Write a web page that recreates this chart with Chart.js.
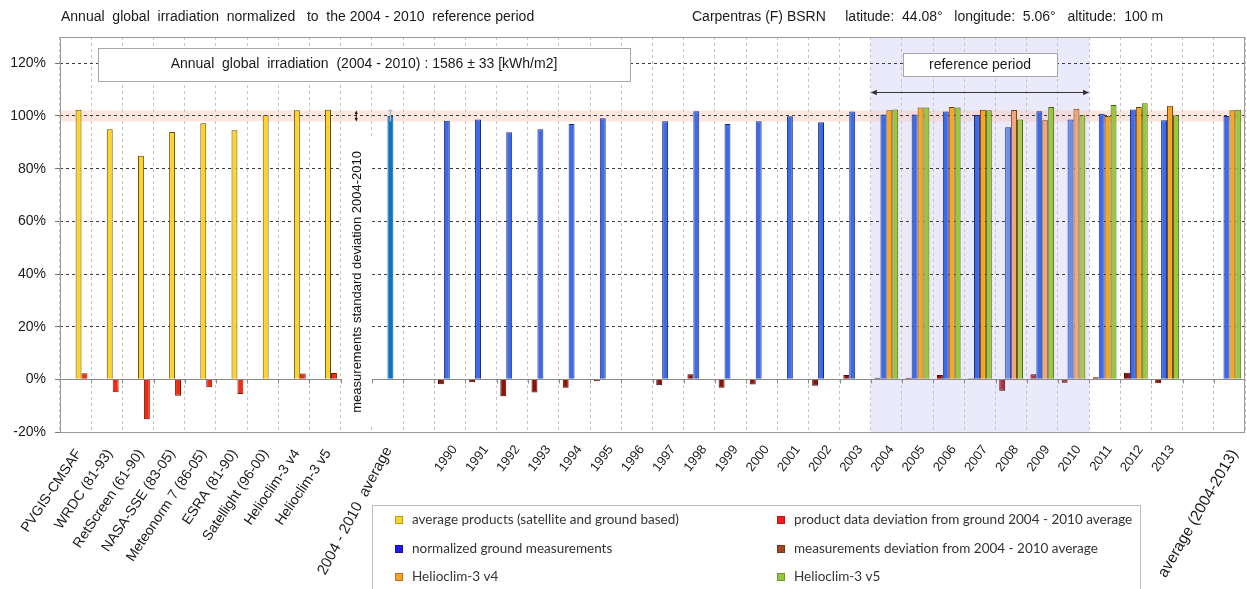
<!DOCTYPE html>
<html>
<head>
<meta charset="utf-8">
<title>Annual global irradiation – Carpentras</title>
<script src="https://cdn.jsdelivr.net/npm/chart.js@4.4.1/dist/chart.umd.min.js"></script>
<style>
  html, body { margin: 0; padding: 0; background: #ffffff; }
  #wrap { width: 1247px; height: 589px; position: relative; }
</style>
</head>
<body>
<div id="wrap"><canvas id="chart" width="1247" height="589"></canvas></div>
<script>
// ---- data (percent of the 2004-2010 ground average) ----
const productNames = ['PVGIS-CMSAF', 'WRDC (81-93)', 'RetScreen (61-90)', 'NASA-SSE (83-05)',
  'Meteonorm 7 (86-05)', 'ESRA (81-90)', 'Satellight (96-00)', 'Helioclim-3 v4', 'Helioclim-3 v5'];
const productAverage   = [102.4, 95.0, 84.9, 93.9, 97.2, 94.6, 100.3, 102.2, 102.4];
const productDeviation = [2.3, -4.9, -15.2, -6.2, -3.0, -5.6, 0.3, 2.2, 2.4];

const referenceLabel = '2004 - 2010  average';
const referenceAverage = 100;
const referenceStdDev = 2.1;          // 33 / 1586 kWh/m2

const years = ['1990', '1991', '1992', '1993', '1994', '1995', '1996', '1997', '1998', '1999', '2000', '2001',
  '2002', '2003', '2004', '2005', '2006', '2007', '2008', '2009', '2010', '2011', '2012', '2013'];
const groundNormalized = [98.2, 98.7, 93.8, 95.0, 97.0, 99.1, null, 98.0, 101.8, 97.0, 98.0, 99.9,
  97.6, 101.7, 100.6, 100.6, 101.7, 100.4, 95.7, 101.8, 98.7, 100.9, 102.5, 98.4];
const groundDeviation = [-1.9, -1.1, -6.4, -5.0, -3.2, -0.7, null, -2.2, 1.9, -3.2, -2.0, -0.1,
  -2.4, 1.6, 0.6, 0.6, 1.6, 0.4, -4.3, 1.9, -1.3, 0.8, 2.5, -1.5];

const hc3Years = ['2004', '2005', '2006', '2007', '2008', '2009', '2010', '2011', '2012', '2013'];
const hc3v4 = [102.2, 103.2, 103.4, 102.4, 102.3, 98.4, 102.8, 100.0, 103.4, 103.9];
const hc3v5 = [102.5, 103.2, 103.2, 102.2, 98.7, 103.4, 100.3, 104.2, 104.8, 100.3];

const summaryLabel = 'average (2004-2013)';
const summaryGround = 100.0;
const summaryDeviation = 0.1;
const summaryV4 = 102.2;
const summaryV5 = 102.4;

const referenceYears = ['2004', '2010'];   // first and last year of the reference period
const yMin = -20, yMax = 130, yStep = 20;

// ---- category layout: products | gap | 2004-2010 avg | gap | years | gap | 2004-2013 avg ----
const categories = [...productNames, '', referenceLabel, '', ...years, '', summaryLabel];
const stdDevIndex = productNames.length;
const referenceIndex = stdDevIndex + 1;
const yearStart = referenceIndex + 2;
const summaryIndex = yearStart + years.length + 1;
const N = categories.length;

const empty = () => new Array(N).fill(null);
const yellowData = empty(), redData = empty(), blueData = empty(), brownData = empty();
const orangeData = empty(), greenData = empty(), refData = empty();
productAverage.forEach((v, i) => { yellowData[i] = v; });
productDeviation.forEach((v, i) => { redData[i] = v; });
refData[referenceIndex] = referenceAverage;
groundNormalized.forEach((v, i) => { blueData[yearStart + i] = v; });
groundDeviation.forEach((v, i) => { brownData[yearStart + i] = v; });
hc3Years.forEach((yr, i) => {
  const idx = yearStart + years.indexOf(yr);
  orangeData[idx] = hc3v4[i];
  greenData[idx] = hc3v5[i];
});
blueData[summaryIndex] = summaryGround;
brownData[summaryIndex] = summaryDeviation;
orangeData[summaryIndex] = summaryV4;
greenData[summaryIndex] = summaryV5;

// colour helpers: the last reference years are drawn in a softer tone
const yearOf = i => (i >= yearStart && i < yearStart + years.length) ? years[i - yearStart] : null;
const shade = (normal, soft, softYears) => categories.map((_, i) => softYears.includes(yearOf(i)) ? soft : normal);

const datasets = [
  { label: 'measurements deviation from 2004 - 2010 average', data: brownData, stack: 's1',
    backgroundColor: shade('#8e1208', '#a8344c', ['2008', '2009', '2010']), borderColor: '#4a0a05',
    legendColor: '#a3461f', legendSlot: [1, 1] },
  { label: 'normalized ground measurements', data: blueData, stack: 's2',
    backgroundColor: shade('#3d6be8', '#6a8ff0', ['2008', '2010']), borderColor: '#1c2a78',
    legendColor: '#1a1af0', legendSlot: [0, 1] },
  { label: 'average products (satellite and ground based)', data: yellowData, stack: 's3',
    backgroundColor: '#ffd42a', borderColor: '#5e4c08', legendColor: '#f7d42c', legendSlot: [0, 0] },
  { label: 'Helioclim-3 v4', data: orangeData, stack: 's3',
    backgroundColor: shade('#f9a51e', '#f0a67c', ['2008', '2009', '2010']), borderColor: '#6e4208',
    legendColor: '#f7a12a', legendSlot: [0, 2] },
  { label: referenceLabel, data: refData, stack: 's3',
    backgroundColor: '#0a74c4', borderColor: '#064f88' },
  { label: 'product data deviation from ground 2004 - 2010 average', data: redData, stack: 's4',
    backgroundColor: '#f42a0e', borderColor: '#7a1505', legendColor: '#ff1a1a', legendSlot: [1, 0] },
  { label: 'Helioclim-3 v5', data: greenData, stack: 's4',
    backgroundColor: shade('#9bc53a', '#abc75a', ['2008', '2010']), borderColor: '#45620c',
    legendColor: '#93c83e', legendSlot: [1, 2] }
];

const FONT = '"Liberation Sans", Arial, sans-serif';

function rotatedLabel(ctx, text, px, py, deg, size) {
  ctx.save();
  ctx.translate(px, py);
  ctx.rotate(-deg * Math.PI / 180);
  ctx.font = size + 'px ' + FONT;
  ctx.textAlign = 'right';
  ctx.textBaseline = 'middle';
  ctx.fillStyle = '#1a1a1a';
  ctx.fillText(text, 0, 0);
  ctx.restore();
}

function arrowHead(ctx, x, y, dx, dy, size) {
  // filled triangle pointing along (dx, dy)
  const len = Math.hypot(dx, dy), ux = dx / len, uy = dy / len;
  ctx.beginPath();
  ctx.moveTo(x, y);
  ctx.lineTo(x - ux * size - uy * size * 0.45, y - uy * size + ux * size * 0.45);
  ctx.lineTo(x - ux * size + uy * size * 0.45, y - uy * size - ux * size * 0.45);
  ctx.closePath();
  ctx.fill();
}

const decor = {
  id: 'decor',
  beforeDraw(chart) {
    const { ctx, chartArea: a, scales: { x, y } } = chart;
    const half = (x.getPixelForValue(1) - x.getPixelForValue(0)) / 2;
    // reference period background
    const i0 = yearStart + years.indexOf(referenceYears[0]);
    const i1 = yearStart + years.indexOf(referenceYears[1]);
    ctx.save();
    ctx.fillStyle = '#eaeafb';
    const xl = x.getPixelForValue(i0) - half, xr = x.getPixelForValue(i1) + half;
    ctx.fillRect(xl, a.top, xr - xl, a.bottom - a.top);
    // ± standard deviation band around 100 %
    const yb1 = y.getPixelForValue(referenceAverage + referenceStdDev);
    const yb2 = y.getPixelForValue(referenceAverage - referenceStdDev);
    ctx.fillStyle = 'rgba(250, 200, 180, 0.45)';
    ctx.fillRect(a.left, yb1, a.right - a.left, yb2 - yb1);
    ctx.restore();
  },
  beforeDatasetsDraw(chart) {
    const { ctx, chartArea: a, scales: { x, y } } = chart;
    const half = (x.getPixelForValue(1) - x.getPixelForValue(0)) / 2;
    const y0 = Math.round(y.getPixelForValue(0)) + 0.5;
    ctx.save();
    ctx.strokeStyle = '#8a8a8a';
    ctx.lineWidth = 1;
    ctx.beginPath();
    ctx.moveTo(a.left, y0); ctx.lineTo(a.right, y0);
    for (let i = 1; i < N; i++) {
      const bx = Math.round(x.getPixelForValue(i) - half) + 0.5;
      ctx.moveTo(bx, y0); ctx.lineTo(bx, y0 + 4);
    }
    ctx.stroke();
    ctx.restore();
  },
  afterDatasetsDraw(chart) {
    const { ctx, scales: { x, y } } = chart;
    const half = (x.getPixelForValue(1) - x.getPixelForValue(0)) / 2;
    ctx.save();

    // vertical note on the standard deviation, on a white strip
    const sx = x.getPixelForValue(stdDevIndex);
    const note = 'measurements standard deviation 2004-2010';
    ctx.font = '13px ' + FONT;
    const tw = ctx.measureText(note).width;
    const cy = y.getPixelForValue(37);
    ctx.fillStyle = '#ffffff';
    ctx.fillRect(Math.round(sx - half) + 1, cy - tw / 2 - 14, Math.round(2 * half) - 1, tw + 26);
    ctx.translate(sx + 1, cy);
    ctx.rotate(-Math.PI / 2);
    ctx.fillStyle = '#111';
    ctx.textAlign = 'center';
    ctx.textBaseline = 'middle';
    ctx.fillText(note, 0, 0);
    ctx.setTransform(1, 0, 0, 1, 0, 0);

    // standard deviation marker
    const yt = y.getPixelForValue(referenceAverage + referenceStdDev);
    const yb = y.getPixelForValue(referenceAverage - referenceStdDev);
    ctx.strokeStyle = '#111';
    ctx.fillStyle = '#111';
    ctx.lineWidth = 1;
    ctx.beginPath(); ctx.moveTo(sx, yt + 2); ctx.lineTo(sx, yb - 2); ctx.stroke();
    arrowHead(ctx, sx, yt, 0, -1, 3.5);
    arrowHead(ctx, sx, yb, 0, 1, 3.5);

    // whisker on the 2004-2010 average bar
    const meta = chart.getDatasetMeta(datasets.findIndex(d => d.data === refData));
    const bar = meta.data[referenceIndex];
    if (bar) {
      ctx.strokeStyle = '#a9b9cc';
      ctx.lineWidth = 1.5;
      ctx.beginPath();
      ctx.moveTo(bar.x, yt); ctx.lineTo(bar.x, yb);
      ctx.moveTo(bar.x - 2, yt); ctx.lineTo(bar.x + 2, yt);
      ctx.stroke();
    }
    ctx.restore();
  },
  afterDraw(chart) {
    const { ctx, chartArea: a, scales: { x, y } } = chart;
    const half = (x.getPixelForValue(1) - x.getPixelForValue(0)) / 2;
    ctx.save();

    // plot frame
    ctx.strokeStyle = '#9a9a9a';
    ctx.lineWidth = 1;
    ctx.strokeRect(Math.round(a.left) + 0.5, Math.round(a.top) + 0.5,
      Math.round(a.right - a.left) - 1, Math.round(a.bottom - a.top));

    // headline box
    ctx.fillStyle = '#ffffff';
    ctx.strokeStyle = '#a8a8a8';
    ctx.fillRect(98, 48, 532, 33);
    ctx.strokeRect(98.5, 48.5, 532, 33);
    ctx.fillStyle = '#1a1a1a';
    ctx.font = '14px ' + FONT;
    ctx.textAlign = 'center';
    ctx.textBaseline = 'middle';
    ctx.fillText('Annual  global  irradiation  (2004 - 2010) : 1586 \u00b1 33 [kWh/m2]', 364, 64.5);

    // reference period box and arrow
    const i0 = yearStart + years.indexOf(referenceYears[0]);
    const i1 = yearStart + years.indexOf(referenceYears[1]);
    const xl = x.getPixelForValue(i0) - half, xr = x.getPixelForValue(i1) + half;
    ctx.fillStyle = '#ffffff';
    ctx.fillRect(903, 53, 154, 23);
    ctx.strokeRect(903.5, 53.5, 154, 23);
    ctx.fillStyle = '#1a1a1a';
    ctx.fillText('reference period', 980, 65);
    const ya = Math.round(y.getPixelForValue(109.1)) + 0.5;
    ctx.strokeStyle = '#333';
    ctx.fillStyle = '#333';
    ctx.beginPath(); ctx.moveTo(xl + 3, ya); ctx.lineTo(xr - 3, ya); ctx.stroke();
    arrowHead(ctx, xl, ya, -1, 0, 6);
    arrowHead(ctx, xr, ya, 1, 0, 6);

    // titles
    ctx.fillStyle = '#1a1a1a';
    ctx.font = '14px ' + FONT;
    ctx.textAlign = 'left';
    ctx.fillText('Annual  global  irradiation  normalized   to  the 2004 - 2010  reference period', 61, 17);
    ctx.fillText('Carpentras (F) BSRN     latitude:  44.08\u00b0   longitude:  5.06\u00b0   altitude:  100 m', 692, 17);

    // category labels
    categories.forEach((label, i) => {
      if (!label) return;
      const xc = x.getPixelForValue(i);
      if (i < productNames.length) rotatedLabel(ctx, label, xc + 3, 451, 56, 14);
      else if (i === referenceIndex) rotatedLabel(ctx, label, xc + 1, 448, 62, 15);
      else if (i === summaryIndex) rotatedLabel(ctx, label, xc + 5, 451, 60, 15.5);
      else rotatedLabel(ctx, label, xc + 5, 447, 53, 13);
    });

    // legend
    ctx.fillStyle = '#ffffff';
    ctx.fillRect(372, 505, 768, 90);
    ctx.strokeStyle = '#bdbdbd';
    ctx.strokeRect(372.5, 505.5, 768, 90);
    ctx.font = '13.5px Lato, "Open Sans", sans-serif';
    ctx.textAlign = 'left';
    ctx.textBaseline = 'middle';
    const colX = [395, 777], rowY = [520, 549, 577];
    datasets.forEach(d => {
      if (!d.legendSlot) return;
      const mx = colX[d.legendSlot[0]], my = rowY[d.legendSlot[1]];
      ctx.fillStyle = d.legendColor;
      ctx.fillRect(mx, my - 4, 8, 8);
      ctx.strokeStyle = 'rgba(0,0,0,0.25)';
      ctx.strokeRect(mx + 0.5, my - 3.5, 7, 7);
      ctx.fillStyle = '#333';
      ctx.fillText(d.label, mx + 17, my);
    });
    ctx.restore();
  }
};

new Chart(document.getElementById('chart'), {
  type: 'bar',
  data: { labels: categories, datasets },
  options: {
    responsive: false,
    animation: false,
    events: [],
    layout: { padding: { top: 37, right: 2, left: 0, bottom: 0 } },
    plugins: { legend: { display: false }, tooltip: { enabled: false } },
    datasets: { bar: { categoryPercentage: 0.76, barPercentage: 1.0, borderWidth: 1 } },
    scales: {
      x: {
        offset: true,
        ticks: { display: false },
        grid: { color: '#c6c6c6', drawTicks: false, offset: true },
        border: { display: false, dash: [3, 3] },
        afterFit: s => { s.height = 157; }
      },
      y: {
        min: yMin, max: yMax, stacked: false,
        ticks: {
          stepSize: yStep, includeBounds: false, padding: 9, color: '#1a1a1a',
          font: { family: FONT, size: 14 },
          callback: v => v + '%'
        },
        grid: {
          color: c => (c.tick && (c.tick.value === 0 || c.tick.value === yMin)) ? 'rgba(0,0,0,0)' : '#3c3c3c',
          tickColor: '#777', tickLength: 5
        },
        border: { display: false, dash: [3, 3] },
        afterFit: s => { s.width = 60; }
      }
    }
  },
  plugins: [decor]
});
</script>
</body>
</html>
